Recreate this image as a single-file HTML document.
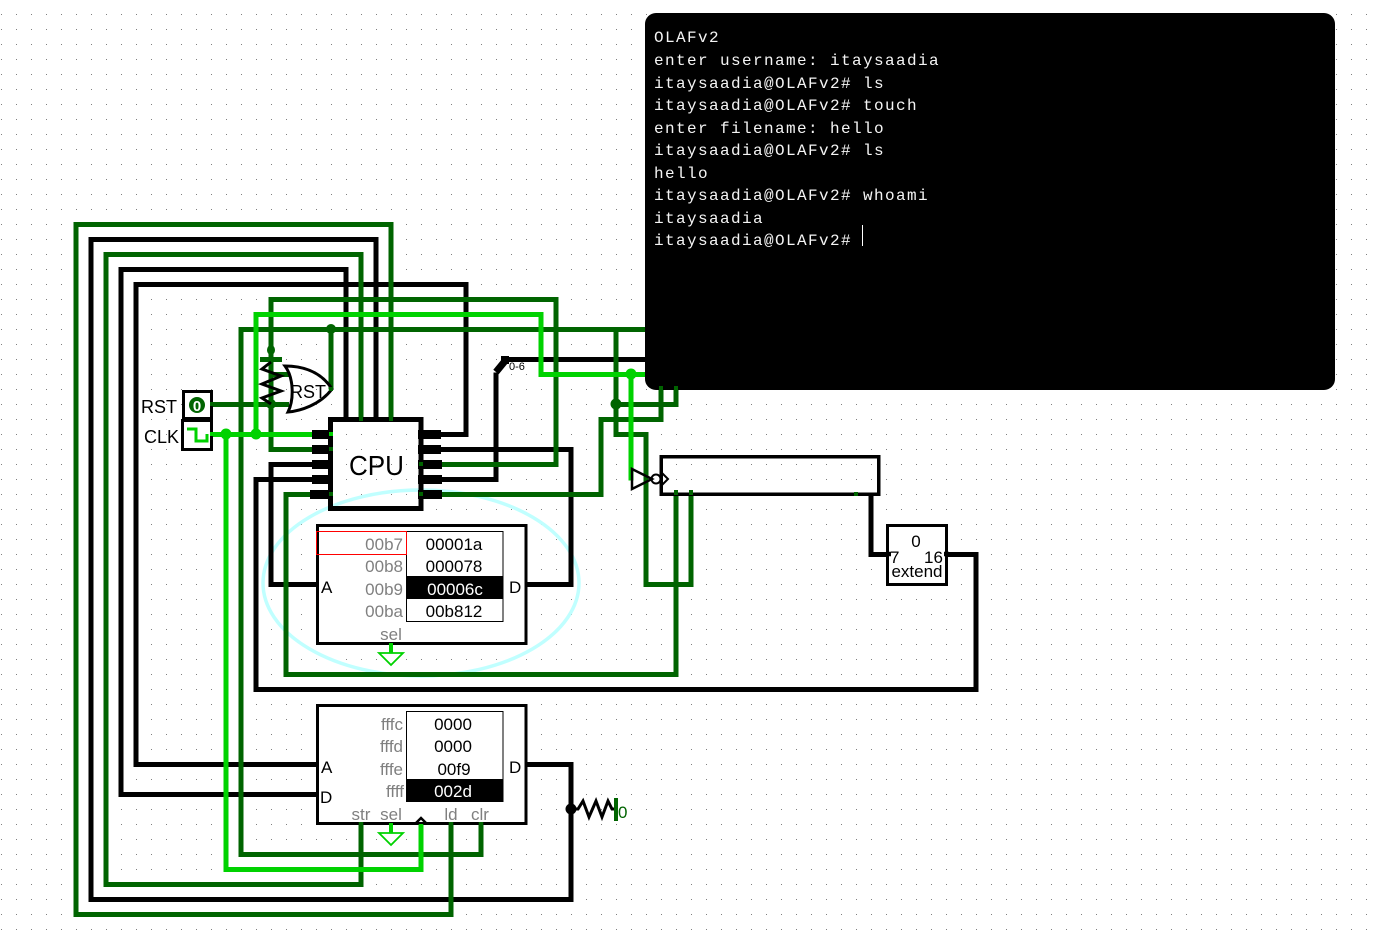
<!DOCTYPE html>
<html><head><meta charset="utf-8"><style>
html,body{margin:0;padding:0;background:#fff}
svg{display:block}
text{font-family:"Liberation Sans",sans-serif}
.g{fill:#808080;font-size:17px}
.k{fill:#000;font-size:17px}
.m{fill:#f4f4f4;font-family:"Liberation Mono",monospace;font-size:16px;letter-spacing:1.4px}
rect{shape-rendering:crispEdges}
.w path{shape-rendering:crispEdges}
</style></head><body>
<svg width="1376" height="934" viewBox="0 0 1376 934" xmlns="http://www.w3.org/2000/svg">
<defs><pattern id="d" x="1" y="14" width="15" height="15" patternUnits="userSpaceOnUse"><rect width="1" height="1" fill="#808080"/></pattern></defs>
<rect width="1376" height="934" fill="#fff"/>
<rect width="1376" height="934" fill="url(#d)"/>
<ellipse cx="421" cy="583" rx="158" ry="93" fill="none" stroke="#c0ffff" stroke-width="3.5"/>

<g class="w" fill="none" stroke-width="4.6" stroke-linejoin="miter" transform="translate(0,0.5)">
<g stroke="#000">
<path d="M376 419V239H91V899H571V764H526"/>
<path d="M346 419V269H121V794H316"/>
<path d="M420 434H466V284H136V764H316"/>
<path d="M420 449H571V584H526"/>
<path d="M331 464H271V584H316"/>
<path d="M331 479H256V689H976V554H946"/>
<path d="M420 479H496V372"/>
<path d="M505 359H650"/>
<path d="M871 494V554H887"/>
</g>
<g stroke="#006400">
<path d="M391 419V224H76V914H451V824"/>
<path d="M361 419V254H106V884H361V824"/>
<path d="M331 449H271V299H556V464H420"/>
<path d="M650 329H241V854H481V824"/>
<path d="M331 329V389"/>
<path d="M212 404H289"/>
<path d="M271 374H289"/>
<path d="M616 329V434H646V584H691V494"/>
<path d="M616 404H676V388"/>
<path d="M661 388V419H601V494H420"/>
<path d="M331 494H286V674H676V494"/>
</g>
<g stroke="#00d200">
<path d="M212 434H331"/>
<path d="M256 434V314H541V374H650"/>
<path d="M631 374V480"/>
<path d="M226 434V869H421V824"/>
</g>
</g>

<!-- junctions -->
<g fill="#006400"><circle cx="331" cy="329" r="5"/><circle cx="271" cy="404" r="5"/><circle cx="616" cy="404" r="5.5"/></g>
<g fill="#00d200"><circle cx="226" cy="434" r="5.5"/><circle cx="256" cy="434" r="5.5"/><circle cx="631" cy="374" r="5.5"/></g>
<circle cx="571" cy="809" r="5.5" fill="#000"/>

<!-- splitter -->
<path d="M496 372L505 361" stroke="#000" stroke-width="7" fill="none"/>
<rect x="501" y="356" width="8" height="8" fill="#000"/>
<text x="509" y="370" font-size="11" fill="#000">0-6</text>

<!-- Input pins -->
<rect x="183.500" y="391.500" width="28" height="27" fill="#fff" stroke="#000" stroke-width="3"/>
<rect x="182.500" y="420.500" width="29" height="29" fill="#fff" stroke="#000" stroke-width="3"/>
<circle cx="197" cy="405" r="8" fill="#006400"/>
<text x="197" y="411" text-anchor="middle" font-size="15" font-weight="bold" fill="#fff">0</text>
<path d="M187 429H196V441H207V434" fill="none" stroke="#00d200" stroke-width="3"/>
<rect x="210" y="402" width="4" height="4" fill="#006400"/>
<rect x="210" y="432" width="4" height="4" fill="#00d200"/>
<text class="k" x="141" y="413" style="font-size:18px">RST</text>
<text class="k" x="144" y="443" style="font-size:18px">CLK</text>

<!-- pull resistor top -->
<rect x="260" y="357" width="22" height="5" fill="#006400"/>
<ellipse cx="271" cy="350" rx="4" ry="5" fill="#006400"/>
<path d="M271 362L262 369L281 376L262 384L281 391L262 398L271 404" fill="none" stroke="#000" stroke-width="3"/>

<!-- OR gate -->
<path d="M285 366C300 366 320 370 332 389C320 405 300 411 288 412C294 400 294 378 285 366Z" fill="none" stroke="#000" stroke-width="3"/>
<text x="290" y="398" fill="#000" style="font-size:18px">RST</text>
<rect x="329" y="387" width="4" height="4" fill="#006400"/>

<!-- CPU -->
<g fill="#000">
<rect x="312" y="430" width="20" height="9"/><rect x="312" y="445" width="20" height="9"/><rect x="312" y="460" width="20" height="9"/><rect x="312" y="475" width="20" height="9"/><rect x="310" y="490" width="22" height="9"/>
<rect x="418" y="430" width="23" height="9"/><rect x="418" y="445" width="23" height="9"/><rect x="418" y="460" width="24" height="9"/><rect x="418" y="475" width="24" height="9"/><rect x="418" y="490" width="24" height="9"/>
</g>
<rect x="330.500" y="419.500" width="90.500" height="89" fill="none" stroke="#000" stroke-width="5"/>
<text x="349" y="475" font-size="28" textLength="55" lengthAdjust="spacingAndGlyphs" fill="#000">CPU</text>
<g fill="#006400">
<rect x="329" y="447" width="4" height="4"/><rect x="329" y="492" width="4" height="4"/><rect x="359" y="417" width="4" height="4"/><rect x="389" y="417" width="4" height="4"/><rect x="419" y="462" width="4" height="4"/><rect x="419" y="492" width="4" height="4"/>
</g>
<rect x="329" y="432" width="4" height="4" fill="#00d200"/>

<!-- RAM box -->
<rect x="317.500" y="525.500" width="208.500" height="118" fill="#fff" stroke="#000" stroke-width="3"/>
<rect x="406.500" y="531.500" width="96.500" height="90" fill="#fff" stroke="#000" stroke-width="1"/>
<rect x="407" y="576" width="96" height="23" fill="#000"/>
<rect x="316.500" y="531.500" width="90" height="23" fill="none" stroke="#f00" stroke-width="1"/>
<text class="g" x="403" y="550" text-anchor="end">00b7</text>
<text class="g" x="403" y="572" text-anchor="end">00b8</text>
<text class="g" x="403" y="595" text-anchor="end">00b9</text>
<text class="g" x="403" y="617" text-anchor="end">00ba</text>
<text class="k" x="454" y="550" text-anchor="middle">00001a</text>
<text class="k" x="454" y="572" text-anchor="middle">000078</text>
<text x="455" y="595" text-anchor="middle" fill="#fff" style="font-size:17px">00006c</text>
<text class="k" x="454" y="617" text-anchor="middle">00b812</text>
<text class="k" x="321" y="593">A</text>
<text class="k" x="509" y="593">D</text>
<text class="g" x="391" y="640" text-anchor="middle">sel</text>
<rect x="389" y="643" width="4" height="10" fill="#00d200"/>
<path d="M379 653H403L391 665Z" fill="#fff" stroke="#00d200" stroke-width="1.8"/>

<!-- ROM box -->
<rect x="317.500" y="705.500" width="208.500" height="118" fill="#fff" stroke="#000" stroke-width="3"/>
<rect x="406.500" y="711.500" width="96.500" height="90" fill="#fff" stroke="#000" stroke-width="1"/>
<rect x="407" y="779" width="96" height="23" fill="#000"/>
<text class="g" x="403" y="730" text-anchor="end">fffc</text>
<text class="g" x="403" y="752" text-anchor="end">fffd</text>
<text class="g" x="403" y="775" text-anchor="end">fffe</text>
<text class="g" x="404" y="797" text-anchor="end">ffff</text>
<text class="k" x="453" y="730" text-anchor="middle">0000</text>
<text class="k" x="453" y="752" text-anchor="middle">0000</text>
<text class="k" x="454" y="775" text-anchor="middle">00f9</text>
<text x="453" y="797" text-anchor="middle" fill="#fff" style="font-size:17px">002d</text>
<text class="k" x="321" y="773">A</text>
<text class="k" x="320" y="803">D</text>
<text class="k" x="509" y="773">D</text>
<text class="g" x="361" y="820" text-anchor="middle">str</text>
<text class="g" x="391" y="820" text-anchor="middle">sel</text>
<text class="g" x="451" y="820" text-anchor="middle">ld</text>
<text class="g" x="480" y="820" text-anchor="middle">clr</text>
<path d="M416 823L421 818L426 823" fill="none" stroke="#000" stroke-width="2.500"/>
<rect x="389" y="823" width="4" height="10" fill="#00d200"/>
<path d="M379 833H403L391 845Z" fill="#fff" stroke="#00d200" stroke-width="1.8"/>
<g fill="none" stroke-width="4.500">
<path d="M361 822V830" stroke="#006400"/><path d="M451 822V830" stroke="#006400"/><path d="M481 822V830" stroke="#006400"/><path d="M421 824V830" stroke="#00d200"/>
</g>

<!-- bottom resistor -->
<path d="M571 809H578L583 801L589 817L596 801L602 817L608 801L612 809H616" fill="none" stroke="#000" stroke-width="3"/>
<rect x="614" y="798" width="4" height="23" fill="#006400"/>
<text x="618" y="818" fill="#006400" style="font-size:17px">0</text>

<!-- NOT gate -->
<path d="M632 469L652 479L632 489Z" fill="none" stroke="#000" stroke-width="2.500"/>
<circle cx="656" cy="479" r="4.500" fill="none" stroke="#000" stroke-width="2"/>

<!-- Register -->
<rect x="661" y="456.500" width="217.500" height="37.500" fill="none" stroke="#000" stroke-width="3.500"/>
<path d="M661 472L668 479L661 486" fill="none" stroke="#000" stroke-width="2"/>
<g fill="#006400"><rect x="674" y="490" width="4" height="5"/><rect x="689" y="490" width="4" height="5"/><rect x="854" y="492" width="4" height="4"/></g>

<!-- extend -->
<rect x="887.500" y="525.500" width="59" height="59" fill="#fff" stroke="#000" stroke-width="3"/>
<text class="k" x="916" y="547" text-anchor="middle">0</text>
<text class="k" x="890" y="563">7</text>
<text class="k" x="924" y="563">16</text>
<text class="k" x="917" y="577" text-anchor="middle">extend</text>
<path d="M887 554H891" stroke="#000" stroke-width="4.500"/><path d="M944 554H949" stroke="#000" stroke-width="4.500"/>

<!-- terminal -->
<rect x="645" y="13" width="690" height="377" rx="11" ry="11" fill="#000" style="shape-rendering:auto"/>
<text class="m" x="654" y="42">OLAFv2</text>
<text class="m" x="654" y="65">enter username: itaysaadia</text>
<text class="m" x="654" y="88">itaysaadia@OLAFv2# ls</text>
<text class="m" x="654" y="110">itaysaadia@OLAFv2# touch</text>
<text class="m" x="654" y="133">enter filename: hello</text>
<text class="m" x="654" y="155">itaysaadia@OLAFv2# ls</text>
<text class="m" x="654" y="178">hello</text>
<text class="m" x="654" y="200">itaysaadia@OLAFv2# whoami</text>
<text class="m" x="654" y="223">itaysaadia</text>
<text class="m" x="654" y="245">itaysaadia@OLAFv2#</text>
<rect x="862" y="225" width="1" height="21" fill="#fff"/>
<g fill="#006400"><rect x="659" y="386" width="4" height="4"/><rect x="674" y="386" width="4" height="4"/></g>
</svg>
</body></html>
